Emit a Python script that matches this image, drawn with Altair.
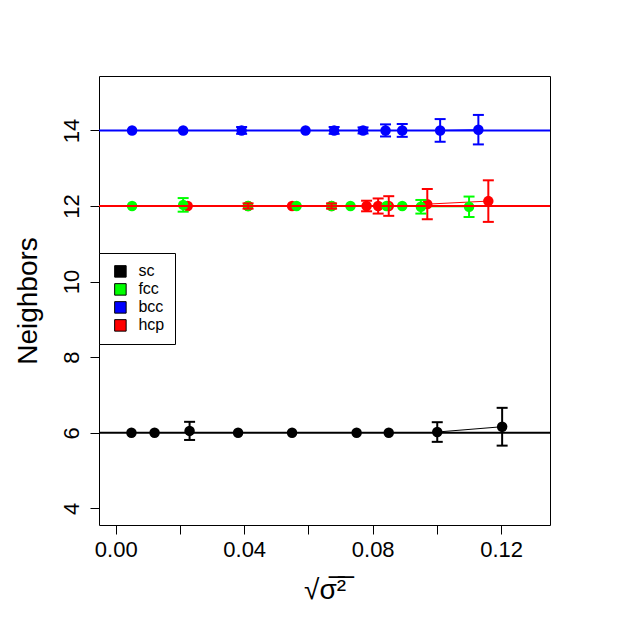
import altair as alt
import pandas as pd

# ---- data ----
structures = ["sc", "fcc", "bcc", "hcp"]
colors = ["#000000", "#00FF00", "#0000FF", "#FF0000"]
ideal = [6, 12, 14, 12]

sc_x = [0.0049, 0.0121, 0.023, 0.0381, 0.0549, 0.075, 0.085, 0.1001, 0.1203]
sc_y = [6.0, 6.0, 6.05, 6.0, 6.0, 6.0, 6.0, 6.02, 6.16]
sc_e = [0, 0, 0.24, 0, 0, 0, 0, 0.26, 0.5]

fcc_x = [0.0051, 0.021, 0.0412, 0.0563, 0.0672, 0.0731, 0.0843, 0.0892, 0.095, 0.110]
fcc_y = [12.0, 12.03, 12.0, 12.0, 12.0, 12.0, 12.0, 12.0, 11.98, 11.98]
fcc_e = [0, 0.18, 0, 0, 0, 0, 0, 0, 0.18, 0.27]

bcc_x = [0.0051, 0.021, 0.0392, 0.0591, 0.068, 0.077, 0.084, 0.0892, 0.101, 0.1129]
bcc_y = [14.0, 14.0, 14.0, 14.0, 14.0, 14.0, 14.0, 14.0, 14.0, 14.02]
bcc_e = [0, 0, 0.09, 0, 0.09, 0.08, 0.16, 0.17, 0.3, 0.39]

hcp_x = [0.0224, 0.0412, 0.0549, 0.0672, 0.0781, 0.0817, 0.085, 0.097, 0.116]
hcp_y = [12.0, 12.0, 12.0, 12.0, 12.0, 12.0, 12.0, 12.05, 12.13]
hcp_e = [0, 0.07, 0, 0.07, 0.14, 0.2, 0.26, 0.4, 0.55]

x_ticks = [0.0, 0.02, 0.04, 0.06, 0.08, 0.10, 0.12]
y_ticks = [4, 6, 8, 10, 12, 14]

series = {
    "sc": (sc_x, sc_y, sc_e),
    "fcc": (fcc_x, fcc_y, fcc_e),
    "bcc": (bcc_x, bcc_y, bcc_e),
    "hcp": (hcp_x, hcp_y, hcp_e),
}

# drawing order: red first, then green, black, blue
draw_order = ["hcp", "fcc", "sc", "bcc"]
rows = []
for s in draw_order:
    xs, ys, es = series[s]
    for x, y, e in zip(xs, ys, es):
        rows.append({"structure": s, "x": x, "y": y, "lo": y - e, "hi": y + e, "err": e})
pts = pd.DataFrame(rows)
errs = pts[pts["err"] > 0]

conn_rows = []
for s in draw_order:
    xs, ys, _ = series[s]
    conn_rows.append({"structure": s, "x": xs[-2], "y": ys[-2], "x2": xs[-1], "y2": ys[-1]})
conn = pd.DataFrame(conn_rows)

hlines = pd.DataFrame({"structure": structures, "y": ideal})

fill_scale = alt.Scale(domain=structures, range=colors)
stroke_scale = alt.Scale(domain=structures, range=colors)
xs_scale = alt.Scale(domain=[-0.0052, 0.1352], nice=False, zero=False)
ys_scale = alt.Scale(domain=[3.56, 15.44], nice=False, zero=False)

FONT = "Liberation Sans"

x_axis = alt.Axis(
    values=x_ticks,
    labelExpr="round(datum.value*100) % 4 == 0 ? format(datum.value, '.2f') : ''",
    title="√σ̅²̅",
    titleFontSize=28, titleFont=FONT, titleFontWeight="normal", titleColor="black",
    titleX=225.5, titleY=73, titleBaseline="alphabetic", titleAlign="center",
    labelFontSize=22, labelFont=FONT, labelColor="black",
    labelPadding=5, labelBaseline="top", labelAlign="center",
    tickSize=9, tickColor="black", domain=False, grid=False, labelFlush=False,
    labelOverlap=False,
)
y_axis = alt.Axis(
    values=y_ticks, format="d", title="Neighbors",
    titleFontSize=28, titleFont=FONT, titleFontWeight="normal", titleColor="black",
    titleX=-62.5, titleY=224.5, titleAngle=270, titleBaseline="alphabetic", titleAlign="center",
    labelFontSize=22, labelFont=FONT, labelColor="black",
    labelAngle=270, labelAlign="center", labelBaseline="alphabetic", labelPadding=12,
    tickSize=9, tickColor="black", domain=False, grid=False, labelFlush=False,
    labelOverlap=False,
)

base_x = alt.X("x:Q", scale=xs_scale, axis=x_axis)
base_y = alt.Y("y:Q", scale=ys_scale, axis=y_axis)

points = alt.Chart(pts).mark_point(filled=True, shape="circle", size=110, opacity=1).encode(
    x=base_x, y=base_y,
    fill=alt.Fill("structure:N", scale=fill_scale, sort=structures, legend=alt.Legend(
        title=None, orient="none", legendX=0, legendY=177,
        symbolType="square", symbolSize=132, symbolStrokeColor="black", symbolStrokeWidth=1,
        symbolOpacity=1, symbolOffset=3,
        labelFont=FONT, labelFontSize=16, labelColor="black", labelOffset=10,
        rowPadding=2, padding=10.4, strokeColor="black", fillColor="white", cornerRadius=0,
    )),
)

def stroke_enc():
    return alt.Stroke("structure:N", scale=stroke_scale, legend=None)

conn_layer = alt.Chart(conn).mark_rule(strokeWidth=1).encode(
    x=alt.X("x:Q", scale=xs_scale), y=alt.Y("y:Q", scale=ys_scale),
    x2="x2:Q", y2="y2:Q", stroke=stroke_enc(),
)

err_v = alt.Chart(errs).mark_rule(strokeWidth=2).encode(
    x=alt.X("x:Q", scale=xs_scale), y=alt.Y("lo:Q", scale=ys_scale), y2="hi:Q",
    stroke=stroke_enc(),
)
cap_lo = alt.Chart(errs).mark_rule(strokeWidth=2, xOffset=-5.5, x2Offset=5.5).encode(
    x=alt.X("x:Q", scale=xs_scale), x2="x:Q", y=alt.Y("lo:Q", scale=ys_scale),
    stroke=stroke_enc(),
)
cap_hi = alt.Chart(errs).mark_rule(strokeWidth=2, xOffset=-5.5, x2Offset=5.5).encode(
    x=alt.X("x:Q", scale=xs_scale), x2="x:Q", y=alt.Y("hi:Q", scale=ys_scale),
    stroke=stroke_enc(),
)

lines = alt.Chart(hlines).mark_rule(strokeWidth=2).encode(
    y=alt.Y("y:Q", scale=ys_scale), stroke=stroke_enc(),
)

chart = alt.layer(conn_layer, points, err_v, cap_lo, cap_hi, lines).properties(
    width=451, height=449,
    autosize=alt.AutoSizeParams(type="none"),
    padding={"left": 91, "top": 68, "right": 69, "bottom": 93},
).resolve_scale(fill="independent", stroke="independent").configure_view(
    stroke="black", strokeWidth=1
)

chart.save("out.html", embed_options={"renderer": "svg", "actions": False})
